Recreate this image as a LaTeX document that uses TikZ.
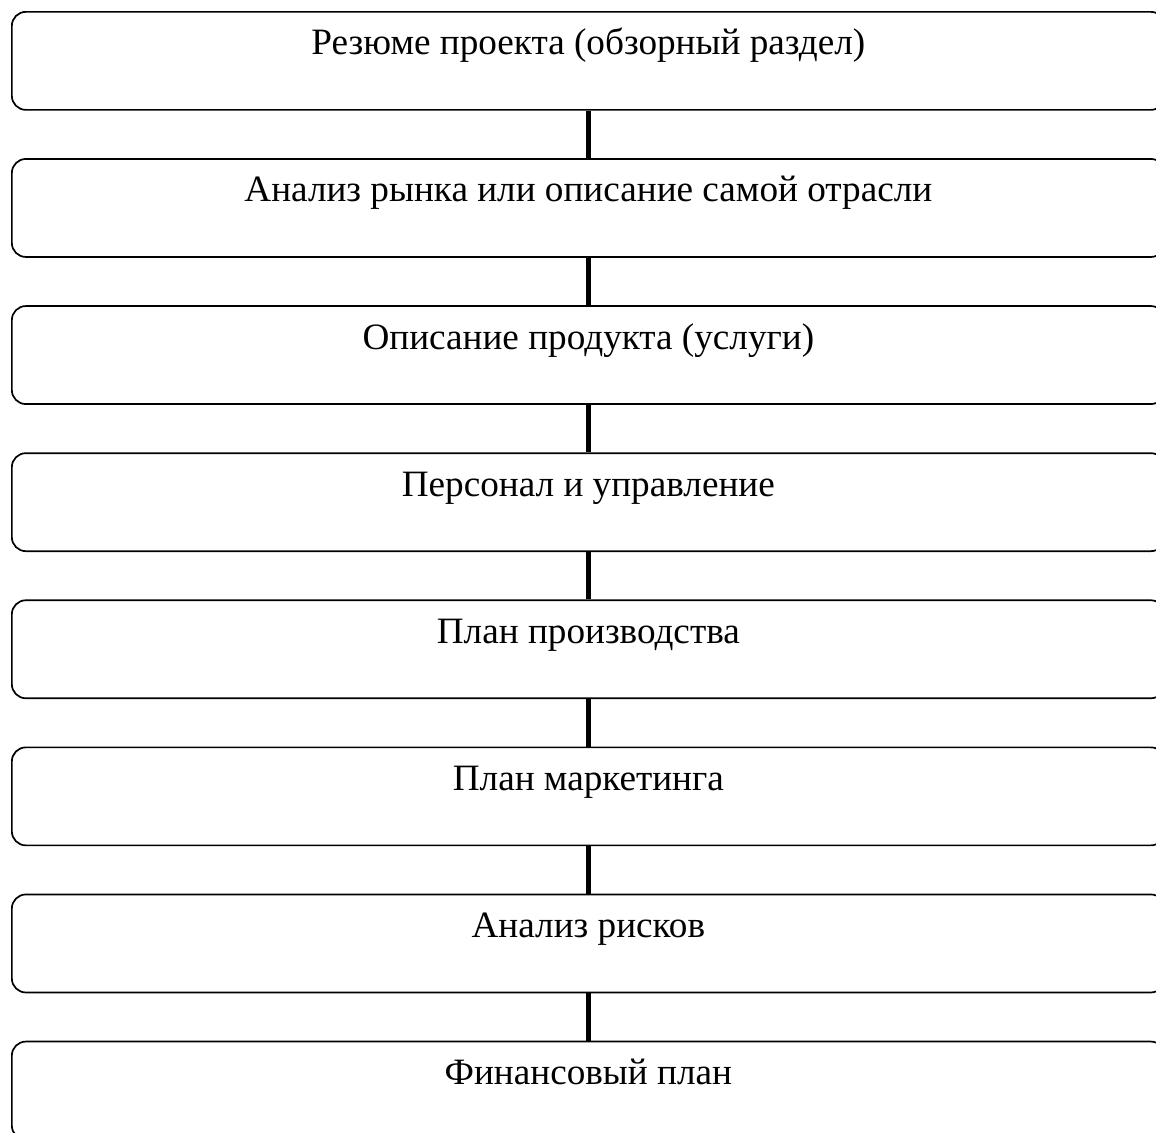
\documentclass[tikz,border=0pt]{standalone}
\usepackage{fontspec}
\setmainfont{Liberation Serif}
\usetikzlibrary{positioning}

\begin{document}
\begin{tikzpicture}[
    every node/.style={font=\fontsize{18.6}{21}\selectfont},
    part box/.style={draw, line width=0.85pt, rounded corners=7pt,
      minimum width=576.5pt, inner xsep=0pt, inner ysep=0pt,
      text height=21.5pt, text depth=27.5pt},
    link/.style={line width=2.5pt},
  ]

  % page frame, cut at the right and bottom like the source
  \useasboundingbox (0,0) rectangle (578pt,-566pt);

  % --- Sections of the plan, top to bottom ---
  \node[part box, anchor=north west] (s1) at (5.5pt,-5.5pt)
    {Резюме проекта (обзорный раздел)};
  \node[part box, below=23.7pt of s1] (s2)
    {Анализ рынка или описание самой отрасли};
  \node[part box, below=23.7pt of s2] (s3)
    {Описание продукта (услуги)};
  \node[part box, below=23.7pt of s3] (s4)
    {Персонал и управление};
  \node[part box, below=23.7pt of s4] (s5)
    {План производства};
  \node[part box, below=23.7pt of s5] (s6)
    {План маркетинга};
  \node[part box, below=23.7pt of s6] (s7)
    {Анализ рисков};
  \node[part box, below=23.7pt of s7] (s8)
    {Финансовый план};

  % --- Links between the sections ---
  \draw[link] (s1) -- (s2);
  \draw[link] (s2) -- (s3);
  \draw[link] (s3) -- (s4);
  \draw[link] (s4) -- (s5);
  \draw[link] (s5) -- (s6);
  \draw[link] (s6) -- (s7);
  \draw[link] (s7) -- (s8);

\end{tikzpicture}
\end{document}
